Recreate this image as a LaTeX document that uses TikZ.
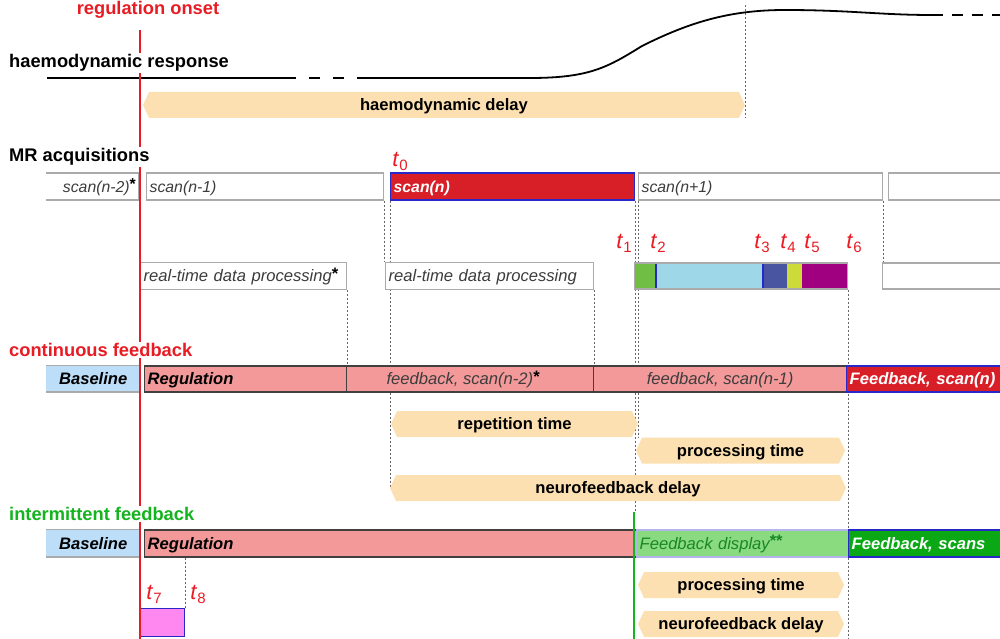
\documentclass[tikz,border=0pt]{standalone}
\usepackage{fontspec}
\setmainfont{Liberation Sans}
\usetikzlibrary{shapes.symbols,backgrounds}

\definecolor{onsetred}{RGB}{232,28,36}
\definecolor{scanred}{RGB}{216,30,38}
\definecolor{rimblue}{RGB}{40,40,200}
\definecolor{boxgray}{RGB}{170,170,170}
\definecolor{txtgray}{RGB}{60,60,60}
\definecolor{peach}{RGB}{253,224,178}
\definecolor{salmon}{RGB}{244,153,154}
\definecolor{baseblue}{RGB}{189,222,248}
\definecolor{intgreen}{RGB}{20,180,30}
\definecolor{displaygreen}{RGB}{138,218,128}
\definecolor{displaytext}{RGB}{25,135,35}
\definecolor{scansgreen}{RGB}{10,168,20}
\definecolor{pinkbox}{RGB}{255,136,240}
\definecolor{segA}{RGB}{112,190,68}
\definecolor{segB}{RGB}{158,216,232}
\definecolor{segC}{RGB}{74,85,162}
\definecolor{segD}{RGB}{204,219,58}
\definecolor{segE}{RGB}{160,0,128}

\newcommand\tsub[1]{\textit{t}\raisebox{-4pt}{\fontsize{15}{15}\selectfont#1}}
\newcommand\astx{\raisebox{2.5pt}{\upshape\bfseries *}}

\tikzset{
  head/.style={font=\fontsize{18.3}{21}\selectfont\bfseries, fill=white, inner sep=1pt, anchor=west},
  scanbox/.style={draw=boxgray, fill=white, line width=1.3, minimum height=27, inner xsep=3pt, inner ysep=0pt,
    text height=11.5pt, text depth=0pt, align=left, anchor=west, text=txtgray,
    font=\fontsize{15.8}{18}\selectfont\itshape},
  rowbox/.style={draw=black!75, fill=salmon, line width=1.3, minimum height=26, inner xsep=3pt, inner ysep=0pt,
    text height=11.8pt, text depth=0pt, align=left, anchor=west, text=txtgray,
    font=\fontsize{16.6}{19}\selectfont\itshape},
  basebox/.style={fill=baseblue, minimum width=94, minimum height=26, inner sep=0pt, anchor=west,
    text height=11.8pt, text depth=0pt, font=\fontsize{16.6}{19}\selectfont\bfseries\itshape},
  delaybar/.style={signal, signal to=west and east, signal pointer angle=130, fill=peach,
    minimum height=26, inner sep=0pt, text height=11.8pt, text depth=0pt,
    font=\fontsize{16.6}{19}\selectfont\bfseries},
  guide/.style={dash pattern=on 2pt off 2pt, black!60, line width=1},
  tmark/.style={text=onsetred, font=\fontsize{22}{24}\selectfont, inner sep=0pt},
}

\begin{document}
\begin{tikzpicture}[x=1pt,y=-1pt]
  \useasboundingbox (0,0) rectangle (1000,639);

  % haemodynamic response
  \begin{scope}[line width=1.8]
  \draw (47,78) -- (285,78);
  \draw[dash pattern=on 11pt off 13pt] (285,78) -- (362,78);
  \draw (362,78) -- (530,78) .. controls (590,78) and (608,67) .. (642,46)
    .. controls (690,22) and (730,10) .. (785,10) .. controls (850,10) and (880,15) .. (932,15);
  \draw[dash pattern=on 11pt off 9pt] (932,15) -- (1000,15);
  \end{scope}
  \node[delaybar, minimum width=602] (hdelay) at (444,105) {haemodynamic delay};

  % MR acquisitions
  \draw[boxgray, line width=1.3] (46,173) -- (139,173) -- (139,200) -- (46,200);
  \node[anchor=east, text=txtgray, font=\fontsize{15.8}{18}\selectfont\itshape, inner sep=1pt,
    text height=11.5pt, text depth=0pt] (scanA) at (137,186.5) {scan(n-2)\textcolor{black}{\astx}};
  \node[scanbox, text width=231pt] (scanB) at (146,186.5) {scan(n-1)};
  \node[scanbox, text width=238pt, fill=scanred, draw=rimblue, text=white, font=\fontsize{15.8}{18}\selectfont\bfseries\itshape]
    (scanC) at (390,186.5) {scan(n)};
  \node[scanbox, text width=238pt] (scanD) at (638,186.5) {scan(n+1)};
  \node[scanbox, minimum width=150] (scanE) at (888,186.5) {};

  % real-time processing
  \node[scanbox, text width=200pt, font=\fontsize{16.6}{19}\selectfont\itshape] (procA) at (140,276)
    {real-time data processing\textcolor{black}{\astx}};
  \node[scanbox, text width=202pt, font=\fontsize{16.6}{19}\selectfont\itshape] (procB) at (385,276)
    {real-time data processing};
  \foreach \xa/\xb/\col in {634/656/segA, 656/763/segB, 763/787/segC, 787/802/segD, 802/847/segE}
    \fill[\col] (\xa,263) rectangle (\xb,289);
  \draw[rimblue, line width=1.2] (656,263) -- (656,289) (763,263) -- (763,289);
  \node[draw=boxgray, line width=1.3, minimum width=213, minimum height=26, inner sep=0pt, anchor=west]
    (procC) at (634,276) {};
  \node[scanbox, minimum width=150, minimum height=26] (procD) at (882,276) {};

  % continuous feedback
  \node[basebox] (baseA) at (46,379) {Baseline};
  \draw[boxgray, line width=0.8] (baseA.north west) -- (baseA.north east);
  \draw[boxgray, line width=2] (baseA.south west) -- (baseA.south east);
  \node[rowbox, text width=196pt, text=black, font=\fontsize{16.6}{19}\selectfont\bfseries\itshape]
    (regA) at (144,379) {Regulation};
  \node[rowbox, minimum width=247, align=center, xshift=0pt] (fbA) at (346,379)
    {feedback, scan(n-2)\textcolor{black}{\astx}\hspace{14pt}};
  \node[rowbox, minimum width=253, align=center] (fbB) at (593,379) {feedback, scan(n-1)};
  \node[rowbox, text width=164pt, fill=scanred, draw=rimblue, text=white,
    font=\fontsize{16.6}{19}\selectfont\bfseries\itshape] (fbC) at (846,379) {Feedback, scan(n)};

  \node[delaybar, minimum width=247] (rep) at (514.5,424) {repetition time};
  \node[delaybar, minimum width=209] (procT) at (740.5,450.5) {processing time};
  \node[delaybar, minimum width=456] (nfdA) at (618,488) {neurofeedback delay};

  % intermittent feedback
  \node[basebox, minimum height=27] (baseB) at (46,543.5) {Baseline};
  \draw[boxgray, line width=0.8] (baseB.north west) -- (baseB.north east);
  \draw[boxgray, line width=2] (baseB.south west) -- (baseB.south east);
  \node[rowbox, minimum height=27, text width=486pt, text=black, font=\fontsize{16.6}{19}\selectfont\bfseries\itshape]
    (regB) at (144,543.5) {Regulation};
  \node[rowbox, minimum height=27, text width=206pt, fill=displaygreen, draw=rimblue!35, text=displaytext]
    (fbD) at (636,543.5) {Feedback display\astx\astx};
  \node[rowbox, minimum height=27, text width=164pt, fill=scansgreen, draw=rimblue, text=white,
    font=\fontsize{16.6}{19}\selectfont\bfseries\itshape] (fbE) at (848,543.5) {Feedback, scans};

  \node[delaybar, minimum width=206] (procU) at (741,585) {processing time};
  \node[delaybar, minimum width=206] (nfdB) at (741,624) {neurofeedback delay};
  \node[draw=rimblue, line width=1.2, fill=pinkbox, minimum width=44, minimum height=28, inner sep=0pt,
    anchor=north west] (tick) at (140,608) {};

  % dotted guides
  \begin{scope}[on background layer]
  \draw[guide] (745,5) -- (745,118);
  \draw[guide] (scanB.south east) -- (scanB.south east |- procB.north);
  \draw[guide] (scanC.south west) -- (scanC.south west |- nfdA.west);
  \draw[guide] (procA.south east) -- (procA.south east |- fbA.north);
  \draw[guide] (procB.south east) -- (procB.south east |- fbB.north);
  \draw[guide] (scanC.south east) -- (scanC.south east |- 0,512);
  \draw[guide] (scanD.south west) -- (scanD.south west |- procT.north);
  \draw[guide] (scanD.south east) -- (scanD.south east |- procD.north);
  \draw[guide] (procC.south east) -- (procC.south east |- 0,639);
  \draw[guide] (regB.south west -| tick.north east) -- (tick.north east);
  \end{scope}

  % onset and display lines
  \draw[intgreen, line width=2] (634,512) -- (634,639);
  \draw[onsetred, line width=2.5] (140,30) -- (140,639);

  % headings
  \node[head, anchor=center, text=onsetred] (onset) at (148,10) {regulation onset};
  \node[head] (hresp) at (8,63) {haemodynamic response};
  \node[head] (mracq) at (8,157) {MR acquisitions};
  \node[head, text=onsetred] (contfb) at (8,350) {continuous feedback};
  \node[head, text=intgreen] (intfb) at (8,514) {intermittent feedback};

  % time points
  \node[tmark] (t0) at (400,161) {\tsub{0}};
  \node[tmark] (t1) at (624,243) {\tsub{1}};
  \node[tmark] (t2) at (658,243) {\tsub{2}};
  \node[tmark] (t3) at (762,243) {\tsub{3}};
  \node[tmark] (t4) at (788,243) {\tsub{4}};
  \node[tmark] (t5) at (812,243) {\tsub{5}};
  \node[tmark] (t6) at (854,243) {\tsub{6}};
  \node[tmark] (t7) at (154,594) {\tsub{7}};
  \node[tmark] (t8) at (198,594) {\tsub{8}};
\end{tikzpicture}
\end{document}
